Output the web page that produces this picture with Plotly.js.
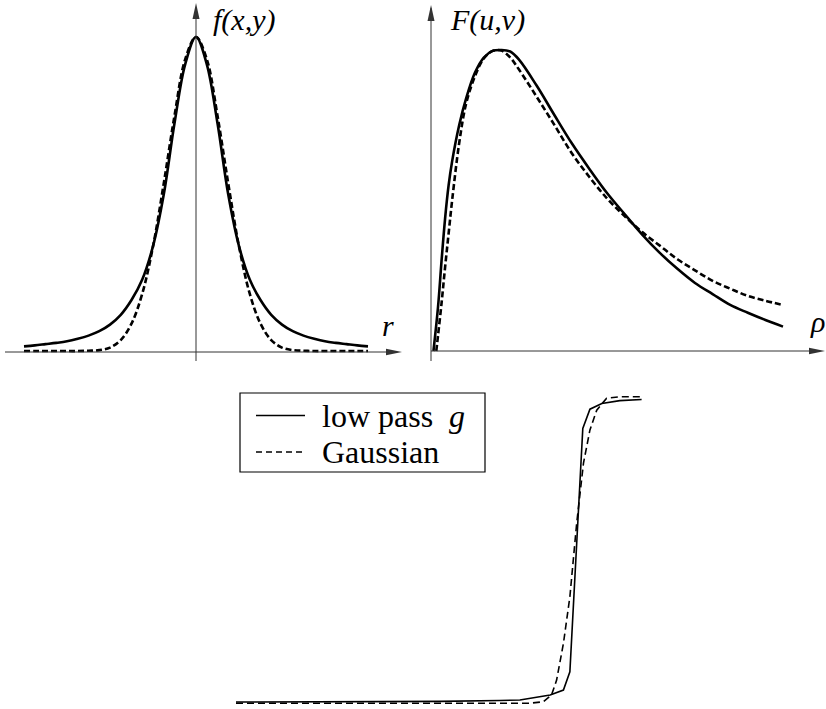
<!DOCTYPE html>
<html>
<head>
<meta charset="utf-8">
<script src="https://cdn.plot.ly/plotly-3.0.1.min.js"></script>
<style>
html,body{margin:0;padding:0;background:#fff;}
#chart{width:826px;height:709px;}
</style>
</head>
<body>
<div id="chart"></div>
<script>
// ---- Panel 1: spatial profile f(x,y) against r ----
const r = [-4, -3.75, -3.5, -3.25, -3, -2.75, -2.5, -2.25, -2, -1.75, -1.5, -1.25, -1, -0.75, -0.5, -0.25, 0,
           0.25, 0.5, 0.75, 1, 1.25, 1.5, 1.75, 2, 2.25, 2.5, 2.75, 3, 3.25, 3.5, 3.75, 4];
const fLowPass = [0.018, 0.021, 0.025, 0.029, 0.034, 0.042, 0.052, 0.066, 0.087, 0.118, 0.165, 0.23, 0.336, 0.50, 0.726, 0.914, 1.0,
                  0.914, 0.726, 0.50, 0.336, 0.23, 0.165, 0.118, 0.087, 0.066, 0.052, 0.042, 0.034, 0.029, 0.025, 0.021, 0.018];
const fGauss = [0.003, 0.003, 0.003, 0.003, 0.003, 0.003, 0.004, 0.006, 0.014, 0.038, 0.09, 0.185, 0.335, 0.535, 0.75, 0.93, 1.0,
                0.93, 0.75, 0.535, 0.335, 0.185, 0.09, 0.038, 0.014, 0.006, 0.004, 0.003, 0.003, 0.003, 0.003, 0.003, 0.003];

// ---- Panel 2: spectrum F(u,v) against rho ----
const rhoLowPass = [0.07, 0.2, 0.3, 0.4, 0.5, 0.6, 0.8, 1.0, 1.25, 1.5, 1.75, 2.0, 2.25, 2.5, 3, 3.5, 4,
                    4.5, 5, 5.5, 6, 6.5, 7, 7.5, 8, 8.5, 9, 9.5, 10];
const FLowPass = [0, 0.147, 0.30, 0.44, 0.55, 0.63, 0.75, 0.84, 0.925, 0.975, 0.997, 1.0, 0.995, 0.968, 0.882, 0.785, 0.69,
                  0.605, 0.525, 0.455, 0.387, 0.326, 0.273, 0.226, 0.189, 0.153, 0.127, 0.103, 0.081];
const rhoGauss = [0.15, 0.2, 0.3, 0.4, 0.5, 0.6, 0.8, 1.0, 1.25, 1.5, 1.75, 2.0, 2.25, 2.5, 3, 3.5, 4,
                  4.5, 5, 5.5, 6, 6.5, 7, 7.5, 8, 8.5, 9, 9.5, 10];
const FGauss = [0, 0.052, 0.159, 0.278, 0.39, 0.50, 0.69, 0.823, 0.913, 0.972, 0.997, 0.998, 0.975, 0.935, 0.845, 0.752, 0.657,
                0.578, 0.507, 0.448, 0.395, 0.35, 0.305, 0.268, 0.233, 0.207, 0.183, 0.167, 0.153];

// ---- Panel 3: step (edge) response ----
const tLowPass = [0, 3.06, 6.0, 7.76, 8.35, 9.24, 9.63, 9.82, 10.2, 10.41, 10.76, 11.29, 11.93];
const gLowPass = [0, 0.001, 0.002, 0.005, 0.0066, 0.023, 0.039, 0.099, 0.897, 0.96, 0.979, 0.988, 0.992];
const tGauss = [0, 6.0, 8.65, 9.04, 9.28, 9.43, 9.63, 9.82, 10.02, 10.22, 10.41, 10.61, 10.9, 11.29, 11.93];
const gGauss = [-0.004, -0.004, -0.004, 0.001, 0.023, 0.072, 0.192, 0.345, 0.586, 0.783, 0.892, 0.957, 0.996, 1.001, 1.001];

const legendLabels = ['low pass\u00a0\u00a0<i>g</i>', 'Gaussian'];

const serif = 'Liberation Serif';
const axColor = '#333';
const W = 826, H = 709;
const px = v => v / W;          // horizontal paper fraction
const py = v => 1 - v / H;      // vertical paper fraction (from top)

const traces = [
  {x: r, y: fLowPass, xaxis: 'x', yaxis: 'y', mode: 'lines', name: 'low pass g', showlegend: false,
   line: {color: '#000', width: 2.6, shape: 'spline', smoothing: 1}},
  {x: r, y: fGauss, xaxis: 'x', yaxis: 'y', mode: 'lines', name: 'Gaussian', showlegend: false,
   line: {color: '#000', width: 2.6, dash: '6px,3px', shape: 'spline', smoothing: 1}},
  {x: rhoLowPass, y: FLowPass, xaxis: 'x2', yaxis: 'y2', mode: 'lines', name: 'low pass g', showlegend: false,
   line: {color: '#000', width: 2.6, shape: 'spline', smoothing: 1}},
  {x: rhoGauss, y: FGauss, xaxis: 'x2', yaxis: 'y2', mode: 'lines', name: 'Gaussian', showlegend: false,
   line: {color: '#000', width: 2.6, dash: '6px,3px', shape: 'spline', smoothing: 1}},
  {x: tLowPass, y: gLowPass, xaxis: 'x3', yaxis: 'y3', mode: 'lines', name: 'low pass g', showlegend: false,
   line: {color: '#000', width: 1.6}},
  {x: tGauss, y: gGauss, xaxis: 'x3', yaxis: 'y3', mode: 'lines', name: 'Gaussian', showlegend: false,
   line: {color: '#000', width: 1.6, dash: '7px,4px'}}
];

const hid = {visible: false, fixedrange: true};
const topDom = [1 - 370 / H, 1];

const arrowH = (xref, yref, xa) => ({type: 'path', xref, yref, xsizemode: 'pixel', ysizemode: 'pixel',
  xanchor: xa, yanchor: 0, path: 'M0,0L-16,3.2L-16,-3.2Z', fillcolor: axColor, line: {width: 0}});
const arrowV = (xref, yref, ya) => ({type: 'path', xref, yref, xsizemode: 'pixel', ysizemode: 'pixel',
  xanchor: 0, yanchor: ya, path: 'M0,0L-3.5,-16L3.5,-16Z', fillcolor: axColor, line: {width: 0}});

const layout = {
  width: W, height: H,
  margin: {l: 0, r: 0, t: 0, b: 0},
  paper_bgcolor: '#fff', plot_bgcolor: 'rgba(0,0,0,0)',
  font: {family: serif, color: '#000'},
  showlegend: false,
  xaxis: Object.assign({domain: [0, 413 / W], range: [-196 / 43, (413 - 196) / 43]}, hid),
  yaxis: Object.assign({domain: topDom, range: [-18 / 315, 352 / 315]}, hid),
  xaxis2: Object.assign({domain: [413 / W, 1], range: [-18 / 35.2, 395 / 35.2]}, hid),
  yaxis2: Object.assign({domain: topDom, range: [-19 / 301, 351 / 301]}, hid),
  xaxis3: Object.assign({domain: [0, 1], range: [-236 / 34, 590 / 34]}, hid),
  yaxis3: Object.assign({domain: [0, 1 - 370 / H], range: [-7 / 305, 332 / 305]}, hid),
  shapes: [
    // panel 1 axes
    {type: 'line', xref: 'x', yref: 'y', x0: -191 / 43, x1: 4.6, y0: 0, y1: 0, line: {color: axColor, width: 1}},
    {type: 'line', xref: 'x', yref: 'y', x0: 0, x1: 0, y0: -9 / 315, y1: 1.09, line: {color: axColor, width: 1}},
    arrowH('x', 'y', 206 / 43),
    arrowV('x', 'y', 349 / 315),
    // panel 2 axes
    {type: 'line', xref: 'x2', yref: 'y2', x0: 0, x1: 11.0, y0: 0, y1: 0, line: {color: axColor, width: 1}},
    {type: 'line', xref: 'x2', yref: 'y2', x0: 0, x1: 0, y0: -10 / 301, y1: 1.14, line: {color: axColor, width: 1}},
    arrowH('x2', 'y2', 394 / 35.2),
    arrowV('x2', 'y2', 346 / 301),
    // legend frame and samples
    {type: 'rect', xref: 'paper', yref: 'paper', x0: px(240), x1: px(485), y0: py(393), y1: py(472),
     line: {color: '#000', width: 1.2}, fillcolor: '#fff', layer: 'below'},
    {type: 'line', xref: 'paper', yref: 'paper', x0: px(256), x1: px(305), y0: py(415.5), y1: py(415.5),
     line: {color: '#000', width: 1.6}},
    {type: 'line', xref: 'paper', yref: 'paper', x0: px(256), x1: px(305), y0: py(452), y1: py(452),
     line: {color: '#000', width: 1.3, dash: '6px,4px'}}
  ],
  annotations: [
    {xref: 'x', yref: 'y', x: 15 / 43, y: 332 / 315, xanchor: 'left', yanchor: 'middle', showarrow: false,
     text: '<i>f(x,y)</i>', font: {family: serif, size: 30}},
    {xref: 'x', yref: 'y', x: 192 / 43, y: 27 / 315, xanchor: 'center', yanchor: 'middle', showarrow: false,
     text: '<i>r</i>', font: {family: serif, size: 30}},
    {xref: 'x2', yref: 'y2', x: 17 / 35.2, y: 331 / 301, xanchor: 'left', yanchor: 'middle', showarrow: false,
     text: '<i>F(u,v)</i>', font: {family: serif, size: 30}},
    {xref: 'x2', yref: 'y2', x: 377 / 35.2, y: 30 / 301, xanchor: 'left', yanchor: 'middle', showarrow: false,
     text: '<i>\u03c1</i>', font: {family: serif, size: 30}},
    {xref: 'paper', yref: 'paper', x: px(320), y: py(416), xanchor: 'left', yanchor: 'middle', showarrow: false,
     text: legendLabels[0], font: {family: serif, size: 32}},
    {xref: 'paper', yref: 'paper', x: px(320), y: py(452), xanchor: 'left', yanchor: 'middle', showarrow: false,
     text: legendLabels[1], font: {family: serif, size: 32}}
  ]
};

Plotly.newPlot('chart', traces, layout, {staticPlot: true, displayModeBar: false});
</script>
</body>
</html>
